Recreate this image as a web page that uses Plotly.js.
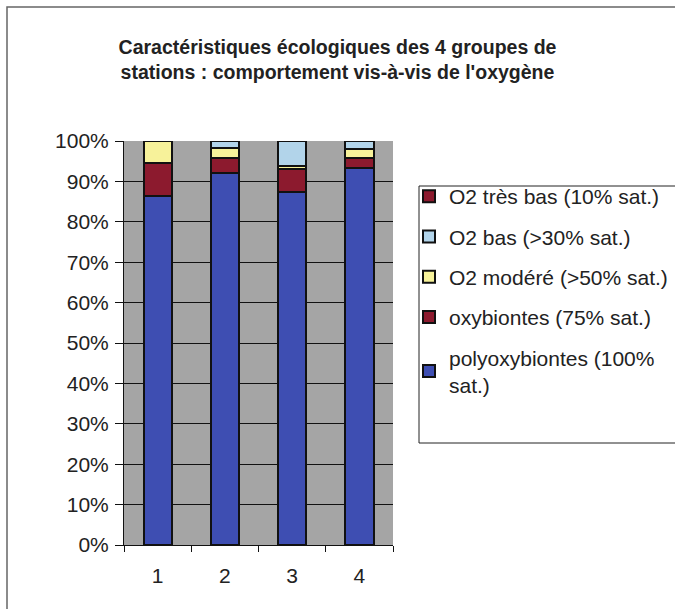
<!DOCTYPE html>
<html>
<head>
<meta charset="utf-8">
<script src="https://cdn.plot.ly/plotly-3.0.1.min.js"></script>
<style>html,body{margin:0;padding:0;background:#fff;overflow:hidden;width:675px;height:609px;} #chart{overflow:hidden;}</style>
</head>
<body>
<div id="chart" style="width:675px;height:609px;"></div>
<script>
const categories = ['1', '2', '3', '4'];
const polyoxybiontes = [86.5, 92.0, 87.5, 93.2];
const oxybiontes = [8.0, 3.7, 5.5, 2.5];
const o2Modere = [5.5, 2.5, 0.8, 2.2];
const o2Bas = [0.0, 1.8, 6.2, 2.1];
const o2TresBas = [0.0, 0.0, 0.0, 0.0];
const seriesNames = ['polyoxybiontes (100%<br>sat.)', 'oxybiontes (75% sat.)', 'O2 modéré (>50% sat.)', 'O2 bas (>30% sat.)', 'O2 très bas (10% sat.)'];
const yTicks = [0, 10, 20, 30, 40, 50, 60, 70, 80, 90, 100];

const colors = ['#3e4eb2', '#8c1a2e', '#f7f29a', '#b2d4ea', '#8c1a2e'];
const seriesValues = [polyoxybiontes, oxybiontes, o2Modere, o2Bas, o2TresBas];

const traces = seriesValues.map((vals, i) => ({
  type: 'bar',
  x: categories,
  y: vals,
  name: seriesNames[i],
  legendgroup: 'g' + i,
  legendrank: (seriesValues.length - i) * 100,
  marker: {color: colors[i], line: {color: '#111', width: 2}},
  hoverinfo: 'none'
}));

const L = 124, R = 393, T = 141, B = 545;
const W = R - L, H = B - T;
const px2x = p => (p - L) / W;
const py2y = p => (B - p) / H;

const layout = {
  width: 675, height: 609,
  margin: {l: L, r: 675 - R, t: T, b: 609 - B, autoexpand: false},
  paper_bgcolor: '#ffffff',
  plot_bgcolor: '#a5a5a5',
  barmode: 'stack',
  bargap: 0.58,
  font: {family: 'Liberation Sans, Arial, sans-serif', size: 21, color: '#222'},
  title: {
    text: 'Caractéristiques écologiques des 4 groupes de<br>stations : comportement vis-à-vis de l\'oxygène',
    font: {family: 'Liberation Sans, Arial, sans-serif', size: 19.5, color: '#222', weight: 'bold'},
    x: 0.5, xref: 'container', y: 1 - 54/609, yref: 'container', yanchor: 'middle'
  },
  xaxis: {
    type: 'category',
    showgrid: false,
    ticks: 'outside', ticklen: 6, tickcolor: '#111', tickwidth: 1,
    tickson: 'boundaries',
    showline: true, linecolor: '#111', linewidth: 1,
    zeroline: false,
    tickfont: {size: 21, color: '#222'},
    ticklabelstandoff: 12,
    fixedrange: true
  },
  yaxis: {
    range: [0, 100],
    tickvals: yTicks,
    ticktext: yTicks.map(v => v + '%'),
    showgrid: true, gridcolor: '#111', gridwidth: 1,
    ticks: 'outside', ticklen: 8, tickcolor: '#111',
    showline: true, linecolor: '#111', linewidth: 1,
    zeroline: false,
    tickfont: {size: 21, color: '#222'},
    ticklabelstandoff: 2,
    fixedrange: true
  },
  showlegend: true,
  legend: {
    x: px2x(409), y: py2y(176), xanchor: 'left', yanchor: 'top',
    xref: 'paper', yref: 'paper',
    bgcolor: 'rgba(0,0,0,0)', borderwidth: 0,
    traceorder: 'grouped',
    tracegroupgap: 10,
    font: {size: 21, color: '#222'},
    itemwidth: 30
  },
  shapes: [{
    type: 'rect', xref: 'paper', yref: 'paper',
    x0: px2x(7), x1: px2x(679), y0: py2y(614), y1: py2y(7),
    line: {color: '#666', width: 1.5}, fillcolor: 'rgba(0,0,0,0)', layer: 'below'
  }, {
    type: 'rect', xref: 'paper', yref: 'paper',
    x0: px2x(419), x1: px2x(679), y0: py2y(443), y1: py2y(186),
    line: {color: '#222', width: 1}, fillcolor: '#ffffff', layer: 'below'
  }]
};

Plotly.newPlot('chart', traces, layout, {displayModeBar: false, staticPlot: true});
</script>
</body>
</html>
